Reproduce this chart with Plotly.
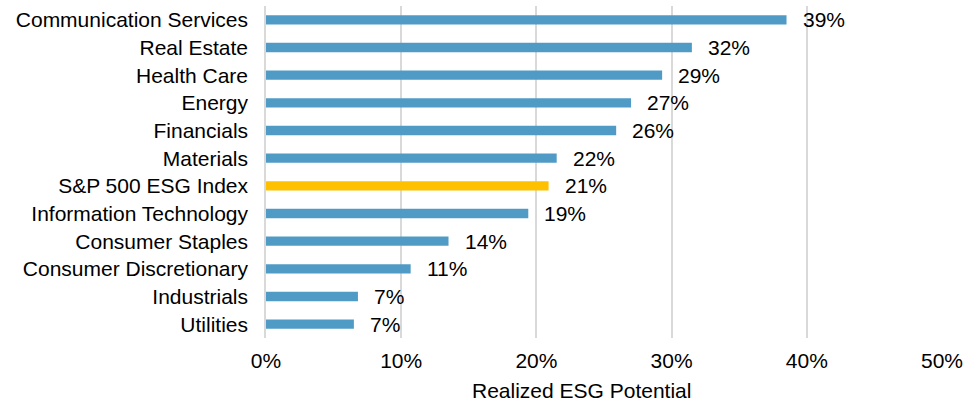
"""
Realized ESG Potential by sector, horizontal bar chart.
"""
import plotly.graph_objects as go

# data (top to bottom)
sectors = ["Communication Services", "Real Estate", "Health Care", "Energy",
           "Financials", "Materials", "S&P 500 ESG Index",
           "Information Technology", "Consumer Staples",
           "Consumer Discretionary", "Industrials", "Utilities"]
values = [0.385, 0.315, 0.293, 0.270, 0.259, 0.215, 0.209,
          0.194, 0.135, 0.107, 0.068, 0.065]
labels = ["39%", "32%", "29%", "27%", "26%", "22%", "21%",
          "19%", "14%", "11%", "7%", "7%"]
x_ticks = [0, 0.1, 0.2, 0.3, 0.4, 0.5]
x_tick_text = ["0%", "10%", "20%", "30%", "40%", "50%"]

BLUE = "#4f9bc6"
GOLD = "#ffc000"
colors = [GOLD if s.startswith("S&P") else BLUE for s in sectors]
FONT = "Liberation Sans, Arial, sans-serif"

fig = go.Figure()
fig.add_trace(go.Bar(
    x=values, y=sectors, orientation="h",
    marker=dict(color=colors, line=dict(width=0)),
    hoverinfo="skip",
))

# value labels just outside the end of each bar
for s, v, t in zip(sectors, values, labels):
    fig.add_annotation(x=v, y=s, text=t, showarrow=False,
                       xanchor="left", yanchor="middle", xshift=14,
                       font=dict(size=21, color="#000000", family=FONT))

# axis title (slightly left of centre, like the original)
fig.add_annotation(x=0.466, y=-0.158, xref="paper", yref="paper",
                   text="Realized ESG Potential", showarrow=False,
                   xanchor="center", yanchor="middle",
                   font=dict(size=21, color="#000000", family=FONT))

fig.update_layout(
    width=976, height=402,
    margin=dict(l=266, r=34, t=6, b=64, autoexpand=False),
    paper_bgcolor="white", plot_bgcolor="white",
    bargap=0.66, showlegend=False,
    font=dict(family=FONT, size=21, color="#000000"),
    xaxis=dict(range=[0, 0.5], tickvals=x_ticks, ticktext=x_tick_text,
               showgrid=True, gridcolor="#d9d9d9", gridwidth=1.5,
               zeroline=False, showline=False, ticks="",
               automargin=False, ticklabelstandoff=8,
               tickfont=dict(size=21, family=FONT)),
    yaxis=dict(autorange="reversed", showgrid=False, ticks="",
               showline=True, linecolor="#d9d9d9", linewidth=1.5,
               automargin=False, ticklabelstandoff=12,
               tickfont=dict(size=21, family=FONT)),
)

# drop the default page margin so the chart sits at the window's corner
fig.write_html("out.html", config={"displayModeBar": False},
               post_script="document.body.style.margin='0';")
